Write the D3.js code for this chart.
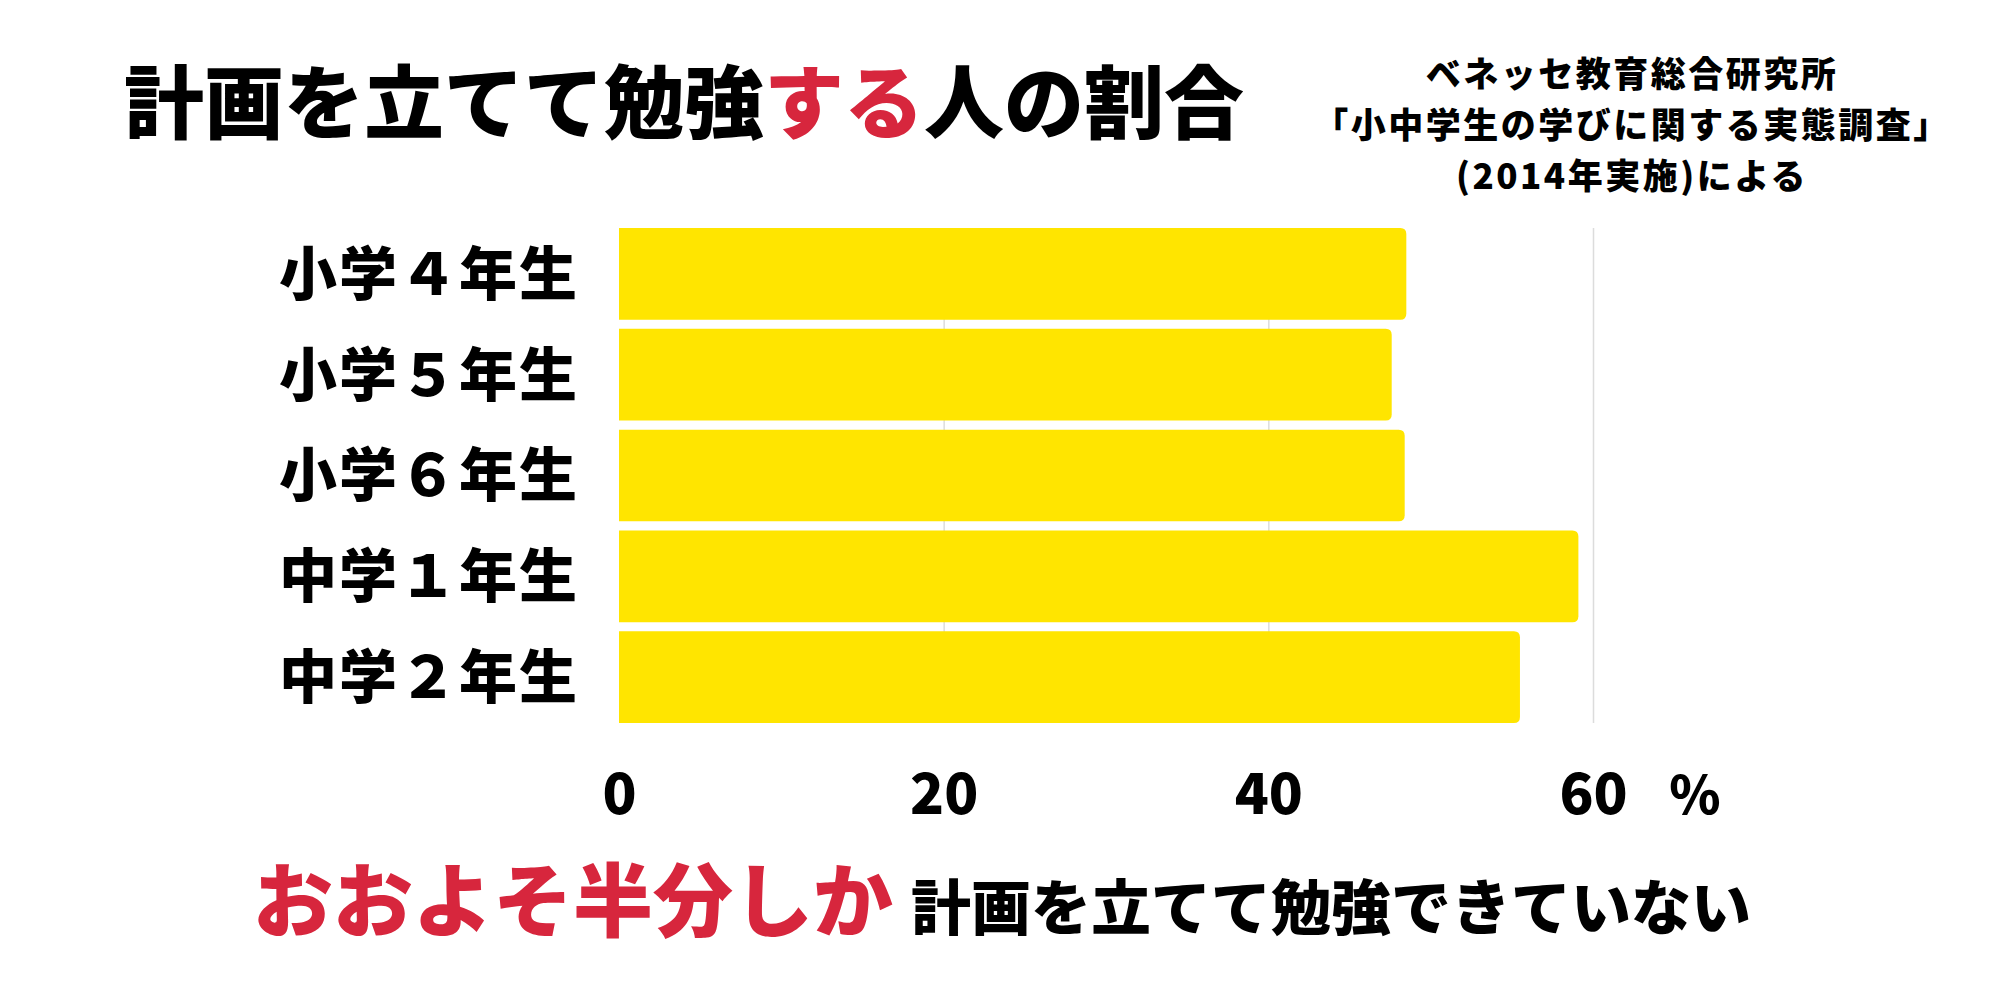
<!DOCTYPE html>
<html>
<head>
<meta charset="utf-8">
<script src="https://cdn.jsdelivr.net/npm/d3@7"></script>
<style>
  body { margin: 0; background: #fff; }
  svg text { font-family: "Noto Sans CJK JP", "Noto Sans", sans-serif; }
</style>
</head>
<body>
<script>
// data
const grades = ['小学４年生', '小学５年生', '小学６年生', '中学１年生', '中学２年生'];
const rates = [48.5, 47.6, 48.4, 59.1, 55.5];
const xTicks = [0, 20, 40, 60];
const sourceLines = ['ベネッセ教育総合研究所', '「小中学生の学びに関する実態調査」', '(2014年実施)による'];

const W = 2000, H = 1000;
const red = '#d7263d';
const yellow = '#ffe500';

const svg = d3.select('body').append('svg').attr('width', W).attr('height', H);

const x = d3.scaleLinear().domain([0, 60]).range([619, 1593]);
const y = d3.scaleBand().domain(grades).range([228, 723]).paddingInner(0.09).paddingOuter(0);

// grid lines behind bars
const grid = svg.append('g').attr('transform', 'translate(0,723)')
    .call(d3.axisBottom(x).tickValues(xTicks.slice(1)).tickSize(-(723 - 228)).tickFormat(''));
grid.select('.domain').remove();
grid.selectAll('line').attr('stroke', '#dcdcdc').attr('stroke-width', 1.5);

// bars with rounded right end only
const barPath = d => {
    const x0 = x(0), x1 = x(d.v), y0 = y(d.g), h = y.bandwidth(), r = 6;
    return `M${x0},${y0}H${x1 - r}Q${x1},${y0} ${x1},${y0 + r}V${y0 + h - r}Q${x1},${y0 + h} ${x1 - r},${y0 + h}H${x0}Z`;
};
svg.append('g').selectAll('path')
    .data(grades.map((g, i) => ({ g: g, v: rates[i] })))
    .join('path')
    .attr('d', barPath)
    .attr('fill', yellow);

// category labels
svg.append('g').selectAll('text')
    .data(grades)
    .join('text')
    .attr('x', 579)
    .attr('y', d => y(d) + y.bandwidth() / 2)
    .attr('dy', '0.36em')
    .attr('text-anchor', 'end')
    .attr('font-size', 58)
    .attr('font-weight', 900)
    .attr('letter-spacing', 2)
    .text(d => d);

// x axis labels
const xAxis = svg.append('g').attr('transform', 'translate(0,774)')
    .call(d3.axisBottom(x).tickValues(xTicks).tickSize(0).tickPadding(0));
xAxis.select('.domain').remove();
xAxis.selectAll('text')
    .attr('font-size', 56)
    .attr('font-weight', 900)
    .attr('fill', '#000')
    .style('font-family', '"Noto Sans CJK JP", sans-serif');

svg.append('text')
    .attr('x', 1695).attr('y', 814)
    .attr('text-anchor', 'middle')
    .attr('font-size', 52)
    .attr('font-weight', 900)
    .text('%');

// title
const title = svg.append('text')
    .attr('x', 124).attr('y', 132)
    .attr('font-size', 80)
    .attr('font-weight', 900);
title.append('tspan').text('計画を立てて勉強');
title.append('tspan').attr('fill', red).text('する');
title.append('tspan').text('人の割合');

// source note
svg.append('g').selectAll('text')
    .data(sourceLines)
    .join('text')
    .attr('x', 1632)
    .attr('y', (d, i) => 87 + i * 51)
    .attr('text-anchor', 'middle')
    .attr('font-size', 35)
    .attr('font-weight', 900)
    .attr('letter-spacing', 2.5)
    .text(d => d);

// bottom message
const msg = svg.append('text')
    .attr('x', 253).attr('y', 930)
    .attr('font-weight', 900);
msg.append('tspan').attr('fill', red).attr('font-size', 80).text('おおよそ半分しか');
msg.append('tspan').attr('dx', 18).attr('font-size', 60).text('計画を立てて勉強できていない');
</script>
</body>
</html>
